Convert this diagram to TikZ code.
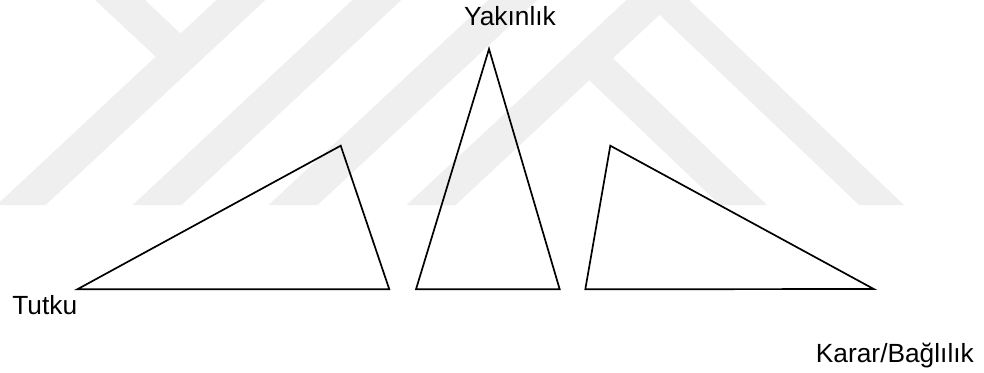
\documentclass[tikz,border=0pt]{standalone}
\usepackage{fontspec}
\setmainfont{Liberation Sans}
\definecolor{wm}{RGB}{239,239,239}
\tikzset{
  wmark/.style={fill=wm, draw=none},
  tri/.style={draw=black, line width=1.7pt, line join=miter},
  lbl/.style={inner sep=0pt, font=\fontsize{26.3}{31}\selectfont, text=black}
}
\begin{document}
\begin{tikzpicture}[x=1pt,y=-1pt]
\useasboundingbox (0,0) rectangle (984,372);
% watermark
\begin{scope}
\clip (0,0) rectangle (984,205);
% slanted bands (/)
\foreach \xo in {88,224,360,498}{
  \fill[wm] ({\xo+128.4},0) -- ({\xo+128.4+49},0) -- ({\xo-91.35+49},205) -- ({\xo-91.35},205) -- cycle;
}
% left arm of the Y
\fill[wm] (95,0) -- (145,0) -- (180.3,33.4) -- (155.7,56.7) -- cycle;
% inner branch
\fill[wm] (589.4,80.4) -- (613,58.2) -- (767,205) -- (720,205) -- cycle;
% right leg of the outer peak
\fill[wm] (644,0) -- (689,0) -- (904,205) -- (859,205) -- cycle;
\end{scope}
% triangles
\coordinate (t1a) at (77.3,289.3);
\coordinate (t1b) at (389.3,289.3);
\coordinate (t1c) at (340.7,145.7);
\coordinate (t2a) at (416,289.3);
\coordinate (t2b) at (559.7,289.3);
\coordinate (t2c) at (489,49);
\coordinate (t3a) at (585.3,289.3);
\coordinate (t3b) at (873.7,289);
\coordinate (t3c) at (610.3,145.7);
\draw[tri] (t1a) -- (t1b) -- (t1c) -- cycle;
\draw[tri] (t2a) -- (t2b) -- (t2c) -- cycle;
\draw[tri] (t3a) -- (t3b) -- (t3c) -- cycle;
% labels
\node[lbl, anchor=base] (yak) at (510,25) {Yakınlık};
\node[lbl, anchor=base west] (tut) at (12.2,314) {Tutku};
\node[lbl, anchor=base east] (kar) at (974,362.7) {Karar/Bağlılık};
\end{tikzpicture}
\end{document}
